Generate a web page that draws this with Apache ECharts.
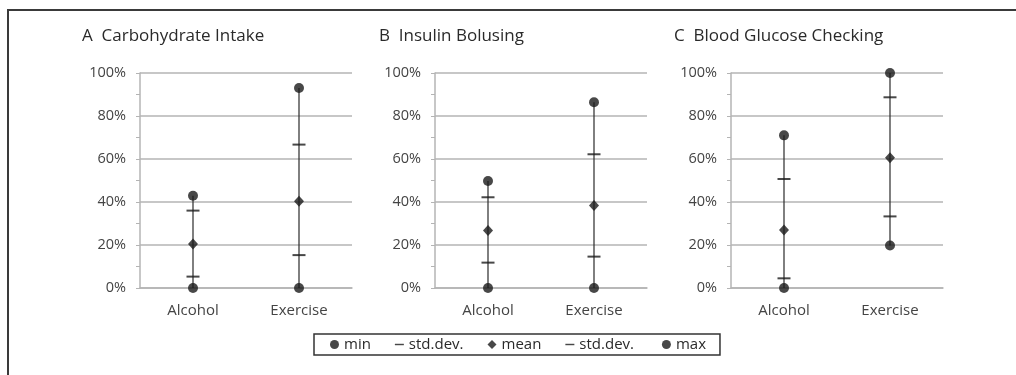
<!DOCTYPE html>
<html>
<head>
<meta charset="utf-8">
<script src="https://cdn.jsdelivr.net/npm/echarts@6/dist/echarts.min.js"></script>
<style>
  html, body { margin: 0; padding: 0; background: #fff; }
  #chart { width: 1016px; height: 375px; }
</style>
</head>
<body>
<div id="chart"></div>
<script>
// Categories shared by the three panels
const categories = ['Alcohol', 'Exercise'];

// Panel titles
const panelTitles = ['A  Carbohydrate Intake', 'B  Insulin Bolusing', 'C  Blood Glucose Checking'];

// Y axis ticks (percent)
const yTicks = [0, 20, 40, 60, 80, 100];

// A: Carbohydrate intake (percent)
const carbMin    = [0, 0];
const carbSdLow  = [5.3, 15.3];
const carbMean   = [20.5, 40.3];
const carbSdHigh = [36, 66.7];
const carbMax    = [42.9, 93];

// B: Insulin bolusing (percent)
const insulinMin    = [0, 0];
const insulinSdLow  = [11.8, 14.6];
const insulinMean   = [26.7, 38.4];
const insulinSdHigh = [42.2, 62.2];
const insulinMax    = [49.8, 86.4];

// C: Blood glucose checking (percent)
const glucoseMin    = [0, 19.8];
const glucoseSdLow  = [4.5, 33.3];
const glucoseMean   = [27, 60.6];
const glucoseSdHigh = [50.7, 88.7];
const glucoseMax    = [71, 100];

const panels = [
  { min: carbMin, sdLow: carbSdLow, mean: carbMean, sdHigh: carbSdHigh, max: carbMax },
  { min: insulinMin, sdLow: insulinSdLow, mean: insulinMean, sdHigh: insulinSdHigh, max: insulinMax },
  { min: glucoseMin, sdLow: glucoseSdLow, mean: glucoseMean, sdHigh: glucoseSdHigh, max: glucoseMax }
];

const FONT = 'Open Sans';
const gridLefts = [140, 435, 731];
const gridWidth = 212;
const titleLefts = [82, 379, 674];

const dashPath = 'path://M0,0h10v1.6h-10z';

const chart = echarts.init(document.getElementById('chart'), null, { renderer: 'canvas' });

const grids = gridLefts.map(l => ({ left: l, width: gridWidth, top: 73, height: 215 }));

const xAxes = gridLefts.map((_, i) => ({
  type: 'category',
  gridIndex: i,
  data: categories,
  axisLine: { show: true, lineStyle: { color: '#b4b4b4', width: 1.5 } },
  axisTick: { show: false },
  axisLabel: { margin: 15, color: '#444', fontFamily: FONT, fontSize: 15 }
}));

const yAxes = gridLefts.map((_, i) => ({
  type: 'value',
  gridIndex: i,
  min: yTicks[0],
  max: yTicks[yTicks.length - 1],
  interval: yTicks[1] - yTicks[0],
  axisLine: { show: true, lineStyle: { color: '#b4b4b4', width: 1.5 } },
  axisTick: { show: true, length: 4, lineStyle: { color: '#b4b4b4', width: 1 } },
  minorTick: { show: true, splitNumber: 2, length: 4, lineStyle: { color: '#b4b4b4', width: 1 } },
  splitLine: { show: true, lineStyle: { color: '#b4b4b4', width: 1.5 } },
  axisLabel: { margin: 14, color: '#444', fontFamily: FONT, fontSize: 14.5, formatter: '{value}%' }
}));

const series = [];
panels.forEach((p, i) => {
  // vertical range line from min to max
  series.push({
    type: 'custom',
    xAxisIndex: i,
    yAxisIndex: i,
    silent: true,
    z: 1,
    data: categories.map((_, k) => [k, p.min[k], p.max[k]]),
    renderItem: (params, api) => {
      const lo = api.coord([api.value(0), api.value(1)]);
      const hi = api.coord([api.value(0), api.value(2)]);
      return {
        type: 'line',
        shape: { x1: lo[0], y1: lo[1], x2: hi[0], y2: hi[1] },
        style: { stroke: '#2a2a2a', lineWidth: 1.2 }
      };
    }
  });
  const mk = (name, data, symbol, size) => ({
    name, type: 'scatter', xAxisIndex: i, yAxisIndex: i, z: 3,
    data, symbol, symbolSize: size,
    itemStyle: { color: '#1a1a1a' }
  });
  series.push(mk('min', p.min, 'circle', 10));
  series.push(mk('std.dev.', p.sdLow, 'rect', [13, 2]));
  series.push(mk('mean', p.mean, 'diamond', [10, 11]));
  series.push(mk('std.dev. ', p.sdHigh, 'rect', [13, 2]));
  series.push(mk('max', p.max, 'circle', 10));
});

chart.setOption({
  backgroundColor: '#fff',
  animation: false,
  title: panelTitles.map((t, i) => ({
    text: t,
    left: titleLefts[i],
    top: 28,
    padding: 0,
    textStyle: { fontFamily: FONT, fontSize: 17, fontWeight: 'normal', color: '#2a2a2a' }
  })),
  legend: {
    left: 314,
    top: 334,
    padding: [3, 14, 3, 16],
    itemGap: 24,
    itemWidth: 9,
    itemHeight: 9,
    itemTextGap: 5,
    borderColor: '#333',
    borderWidth: 1.5,
    selectedMode: false,
    textStyle: { fontFamily: FONT, fontSize: 15, color: '#2a2a2a' },
    data: [
      { name: 'min', icon: 'circle' },
      { name: 'std.dev.', icon: dashPath },
      { name: 'mean', icon: 'diamond' },
      { name: 'std.dev. ', icon: dashPath },
      { name: 'max', icon: 'circle' }
    ]
  },
  graphic: [{
    type: 'polyline',
    silent: true,
    shape: { points: [[8, 375], [8, 10], [1016, 10]] },
    style: { stroke: '#3a3a3a', lineWidth: 2, fill: null }
  }],
  grid: grids,
  xAxis: xAxes,
  yAxis: yAxes,
  series
});
</script>
</body>
</html>
